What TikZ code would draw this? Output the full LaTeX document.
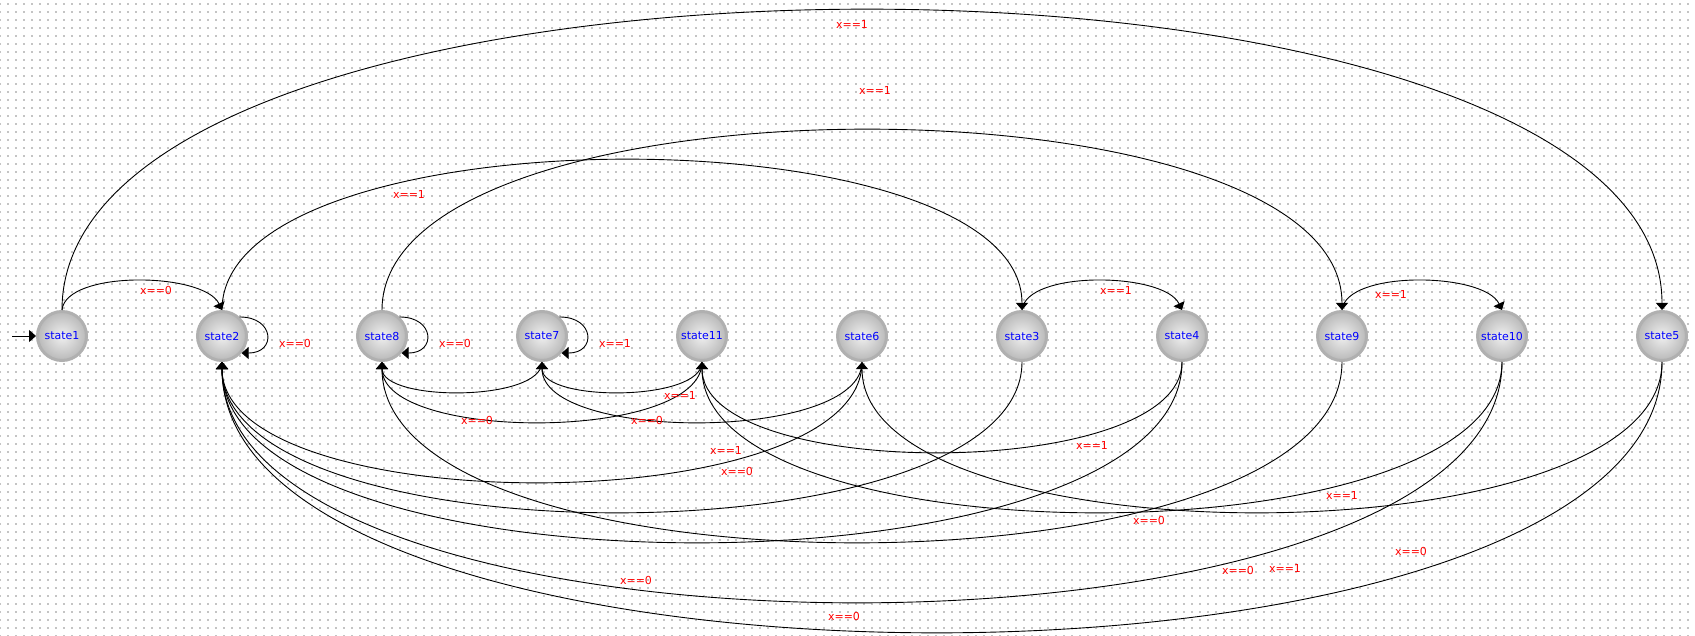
\documentclass[tikz,border=0pt]{standalone}
\usepackage{fontspec}
\setmainfont{DejaVu Sans}
\usetikzlibrary{arrows.meta,patterns.meta}

\begin{document}
\begin{tikzpicture}[x=1pt,y=-1pt,
  state/.style={circle, minimum size=49pt, inner sep=0pt, line width=3pt,
    draw=gray!62, inner color=gray!12, outer color=gray!55,
    text=blue, font=\fontsize{11}{12}\selectfont},
  trans/.style={draw=black, line width=0.9pt, -{Triangle[length=7pt,width=12pt]}},
  lbl/.style={text=red, font=\fontsize{11}{12}\selectfont, inner sep=0pt}
]
% canvas with dotted grid
\fill[white] (0,0) rectangle (1695,636);
\fill[pattern={Dots[distance=8pt,radius=0.7pt]}, pattern color=black] (0,0) rectangle (1695,636);
\useasboundingbox (0,0) rectangle (1695,636);

% states
\node[state] (s1)  at (62,336)   {state1};
\node[state] (s2)  at (222,336)  {state2};
\node[state] (s8)  at (382,336)  {state8};
\node[state] (s7)  at (542,336)  {state7};
\node[state] (s11) at (702,336)  {state11};
\node[state] (s6)  at (862,336)  {state6};
\node[state] (s3)  at (1022,336) {state3};
\node[state] (s4)  at (1182,336) {state4};
\node[state] (s9)  at (1342,336) {state9};
\node[state] (s10) at (1502,336) {state10};
\node[state] (s5)  at (1662,336) {state5};

% initial transition
\coordinate (init) at (12,336);
\draw[trans] (init) -- (s1.west);

% transitions above the row
\draw[trans] (s1.north) .. controls +(0,-400) and +(0,-400) .. (s5.north);
\draw[trans] (s8.north) .. controls +(0,-240) and +(0,-240) .. (s9.north);
\draw[trans] (s2.north) .. controls +(0,-200) and +(0,-200) .. (s3.north);
\draw[trans] (s1.north) .. controls +(4,-40) and +(-18,-38) .. (s2.north);
\draw[trans] (s3.north) .. controls +(4,-40) and +(-18,-38) .. (s4.north);
\draw[trans] (s9.north) .. controls +(4,-40) and +(-18,-38) .. (s10.north);

% self loops
\draw[trans] (s2.47) .. controls +(35,0) and +(35,0) .. (s2.-41);
\draw[trans] (s8.47) .. controls +(35,0) and +(35,0) .. (s8.-41);
\draw[trans] (s7.47) .. controls +(35,0) and +(35,0) .. (s7.-41);

% transitions below the row
\draw[trans] (s7.south)  .. controls +(0,40)  and +(0,40)  .. (s8.south);
\draw[trans] (s11.south) .. controls +(0,40)  and +(0,40)  .. (s7.south);
\draw[trans] (s11.south) .. controls +(0,80)  and +(0,80)  .. (s8.south);
\draw[trans] (s6.south)  .. controls +(0,80)  and +(0,80)  .. (s7.south);
\draw[trans] (s6.south)  .. controls +(0,160) and +(0,160) .. (s2.south);
\draw[trans] (s4.south)  .. controls +(0,120) and +(0,120) .. (s11.south);
\draw[trans] (s3.south)  .. controls +(0,200) and +(0,200) .. (s2.south);
\draw[trans] (s4.south)  .. controls +(0,240) and +(0,240) .. (s2.south);
\draw[trans] (s9.south)  .. controls +(0,240) and +(0,240) .. (s8.south);
\draw[trans] (s10.south) .. controls +(0,200) and +(0,200) .. (s11.south);
\draw[trans] (s5.south)  .. controls +(0,200) and +(0,200) .. (s6.south);
\draw[trans] (s10.south) .. controls +(0,320) and +(0,320) .. (s2.south);
\draw[trans] (s5.south)  .. controls +(0,360) and +(0,360) .. (s2.south);

% guards
\node[lbl] (g1)  at (852,24)   {x==1};
\node[lbl] (g2)  at (875,90)   {x==1};
\node[lbl] (g3)  at (409,194)  {x==1};
\node[lbl] (g4)  at (156,290)  {x==0};
\node[lbl] (g5)  at (1116,290) {x==1};
\node[lbl] (g6)  at (1391,294) {x==1};
\node[lbl] (g7)  at (295,343)  {x==0};
\node[lbl] (g8)  at (455,343)  {x==0};
\node[lbl] (g9)  at (615,343)  {x==1};
\node[lbl] (g10) at (680,395)  {x==1};
\node[lbl] (g11) at (477,420)  {x==0};
\node[lbl] (g12) at (647,420)  {x==0};
\node[lbl] (g13) at (726,450)  {x==1};
\node[lbl] (g14) at (737,471)  {x==0};
\node[lbl] (g15) at (1092,445) {x==1};
\node[lbl] (g16) at (1342,495) {x==1};
\node[lbl] (g17) at (1149,520) {x==0};
\node[lbl] (g18) at (1411,551) {x==0};
\node[lbl] (g19) at (1238,570) {x==0};
\node[lbl] (g20) at (1285,568) {x==1};
\node[lbl] (g21) at (636,580)  {x==0};
\node[lbl] (g22) at (844,616)  {x==0};
\end{tikzpicture}
\end{document}
